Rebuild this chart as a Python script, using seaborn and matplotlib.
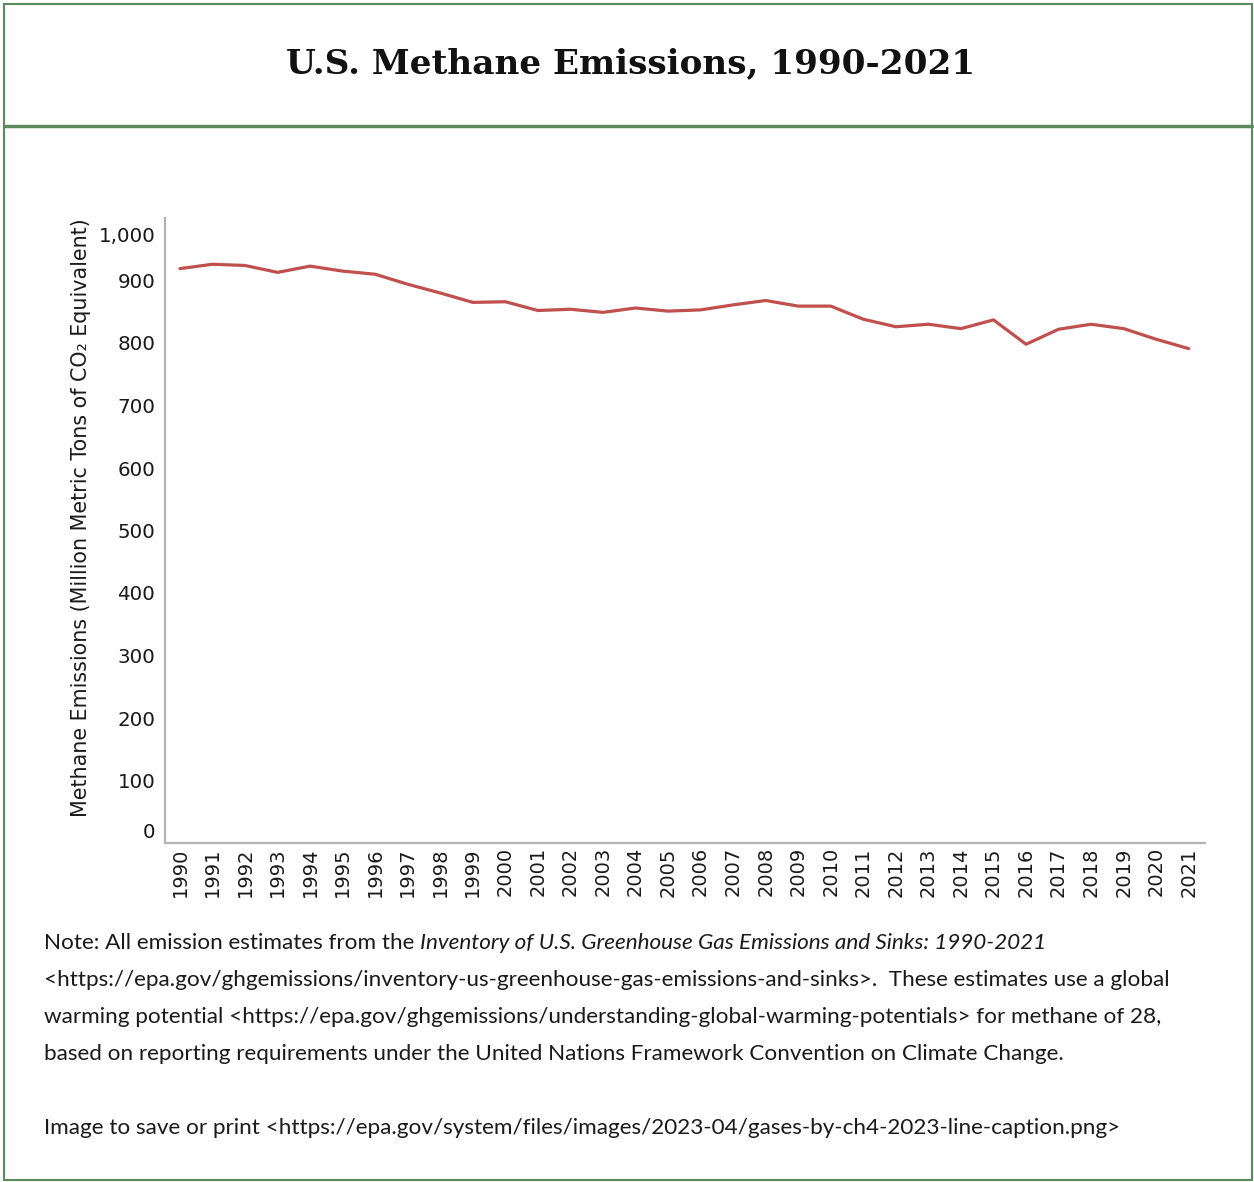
import numpy as np
import pandas as pd
import matplotlib.pyplot as plt
import matplotlib.transforms as mtransforms
from matplotlib.patches import Rectangle
from matplotlib.lines import Line2D
import seaborn as sns

# data
years = list(range(1990, 2022))
methane = [919, 926, 924, 913, 923, 915, 910, 894, 880, 865,
           866, 852, 854, 849, 856, 851, 853, 861, 868, 859,
           859, 838, 826, 830, 823, 837, 798, 822, 830, 823,
           806, 791]
y_ticks = [0, 100, 200, 300, 400, 500, 600, 700, 800, 900, 1000]
y_tick_labels = ["0", "100", "200", "300", "400", "500", "600", "700", "800", "900", "1,000"]

title = "U.S. Methane Emissions, 1990-2021"
y_label = "Methane Emissions (Million Metric Tons of CO\u2082 Equivalent)"
note_lines = [
    ("Note: All emission estimates from the ", "Inventory of U.S. Greenhouse Gas Emissions and Sinks: 1990-2021"),
    ("<https://epa.gov/ghgemissions/inventory-us-greenhouse-gas-emissions-and-sinks>.  These estimates use a global", ""),
    ("warming potential <https://epa.gov/ghgemissions/understanding-global-warming-potentials> for methane of 28,", ""),
    ("based on reporting requirements under the United Nations Framework Convention on Climate Change.", ""),
    ("", ""),
    ("Image to save or print <https://epa.gov/system/files/images/2023-04/gases-by-ch4-2023-line-caption.png>", ""),
]

df = pd.DataFrame({"Year": years, "Methane": methane})

sns.set_style("white")
plt.rcParams["font.family"] = ["DejaVu Sans"]

W, H = 1254, 1182
fig = plt.figure(figsize=(W / 100, H / 100), dpi=100)
fig.patch.set_facecolor("white")

border = "#5b8a5f"
# outer frame and title separator
fig.add_artist(Rectangle((4 / W, 1 - 1180 / H), 1248 / W, 1176 / H, transform=fig.transFigure,
                         fill=False, edgecolor=border, linewidth=1.5))
fig.add_artist(Line2D([4 / W, 1252 / W], [1 - 126 / H, 1 - 126 / H], transform=fig.transFigure,
                      color=border, linewidth=2.5))

fig.text(631 / W, 1 - 64 / H, title, ha="center", va="center",
         family="DejaVu Serif", fontweight="bold", fontsize=24.7, color="#111111")

ax = fig.add_axes([165 / W, 1 - 843 / H, (1205 - 165) / W, (843 - 218) / H])
sns.lineplot(data=df, x="Year", y="Methane", ax=ax, color="#c0504d", linewidth=2.3)

ax.set_xlim(1989.54, 2021.5)
ax.set_ylim(0, 1000)
ax.set_xticks(years)
ax.set_xticklabels([str(y) for y in years], rotation=90, fontsize=14, color="#1a1a1a")
ax.set_yticks(y_ticks)
ax.set_yticklabels(y_tick_labels, fontsize=14.3, color="#1a1a1a")
ax.tick_params(axis="both", length=0)
ax.tick_params(axis="y", pad=7)
ax.tick_params(axis="x", pad=3)
for side in ["top", "right"]:
    ax.spines[side].set_visible(False)
for side in ["left", "bottom"]:
    ax.spines[side].set_color("#b3b3b3")
    ax.spines[side].set_linewidth(1.6)

ax.set_xlabel("")
ax.set_ylabel(y_label, fontsize=14.9, color="#1a1a1a")
ax.yaxis.set_label_coords(-(165 - 91) / (1205 - 165), (843 - 518) / (843 - 218))

fig.canvas.draw()
# end labels pulled inside the axis like in the reference
labels = ax.get_yticklabels()
labels[0].set_transform(labels[0].get_transform() + mtransforms.ScaledTranslation(0, 13 / 100, fig.dpi_scale_trans))
labels[-1].set_transform(labels[-1].get_transform() + mtransforms.ScaledTranslation(0, -17 / 100, fig.dpi_scale_trans))

# note text under the chart
renderer = fig.canvas.get_renderer()
note_font = "Lato"
note_size = 16.2
y0 = 943
for i, (plain, ital) in enumerate(note_lines):
    yy = 1 - (y0 + i * 37) / H
    if plain:
        t = fig.text(44 / W, yy, plain, ha="left", va="center", family=note_font,
                     fontsize=note_size, color="#1a1a1a")
        if ital:
            bb = t.get_window_extent(renderer)
            fig.text(bb.x1 / W, yy, ital, ha="left", va="center", family=note_font,
                     style="italic", fontsize=note_size, color="#1a1a1a")

fig.savefig("out.png", dpi=100, facecolor="white")
